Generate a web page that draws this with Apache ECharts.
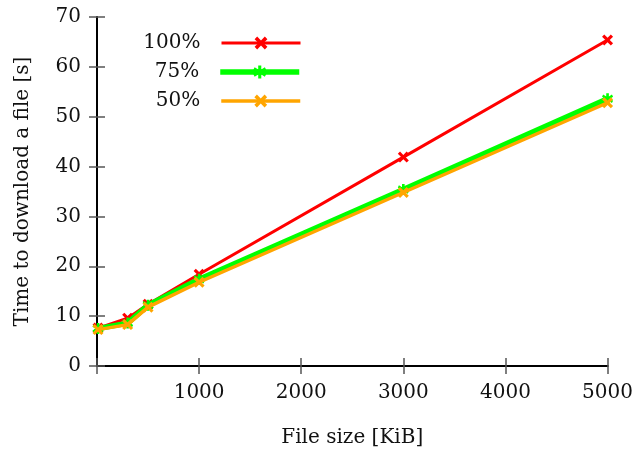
<!DOCTYPE html>
<html><head><meta charset="utf-8">
<script src="https://cdn.jsdelivr.net/npm/echarts@6/dist/echarts.min.js"></script>
<style>html,body{margin:0;padding:0;background:#fff}#c{width:636px;height:455px}</style>
</head><body><div id="c"></div>
<script>
const fileSizes = [10, 300, 500, 1000, 3000, 5000];
const t100 = [7.6, 9.6, 12.4, 18.4, 41.9, 65.4];
const t75  = [7.5, 8.6, 12.2, 17.4, 35.4, 53.6];
const t50  = [7.3, 8.3, 11.8, 16.8, 34.8, 52.8];
const seriesNames = ['100%', '75%', '50%'];
const xTicks = [1000, 2000, 3000, 4000, 5000];
const yTicks = [0, 10, 20, 30, 40, 50, 60, 70];

const FONT = 'DejaVu Serif';
const FS = 20;
const X = 'path://M2,0 L5,3 L8,0 L10,2 L7,5 L10,8 L8,10 L5,7 L2,10 L0,8 L3,5 L0,2 Z';
const STAR = 'path://M3.8,0 L6.2,0 L6.2,3 L9,1.2 L10,3.2 L7.4,5 L10,6.8 L9,8.8 L6.2,7 L6.2,10 L3.8,10 L3.8,7 L1,8.8 L0,6.8 L2.6,5 L0,3.2 L1,1.2 L3.8,3 Z';
const colors = ['#ff0000', '#00ff00', '#ffa500'];
const widths = [3, 5.5, 3.5];
const symbols = [X, STAR, X];
const values = [t100, t75, t50];

const series = values.map((v, i) => ({
  name: seriesNames[i], type: 'line', xAxisIndex: 0, yAxisIndex: 0,
  data: fileSizes.map((x, j) => [x, v[j]]),
  symbol: symbols[i], symbolSize: 11, showSymbol: true,
  lineStyle: {color: colors[i], width: widths[i]},
  itemStyle: {color: colors[i]},
  z: 2 + i, animation: false
}));

const legends = seriesNames.map((n, i) => ({
  data: [n], right: 334, top: 33 + i * 29, orient: 'vertical', align: 'right',
  padding: 0, itemWidth: 79, itemHeight: 16, itemGap: 0,
  lineStyle: {width: widths[i], color: colors[i]},
  textStyle: {fontFamily: FONT, fontSize: FS, color: '#111', padding: [0, 16, 0, 0]},
  selectedMode: false
}));

const chart = echarts.init(document.getElementById('c'), null, {renderer: 'canvas'});
chart.setOption({
  animation: false,
  legend: legends,
  grid: {left: 97, right: 27, top: 17, bottom: 89, containLabel: false},
  xAxis: [{
    type: 'value', min: 0, max: 5000, interval: 1000, position: 'bottom',
    axisLine: {lineStyle: {color: '#000', width: 2}},
    axisTick: {inside: true, length: 8, lineStyle: {color: '#555', width: 1.5}},
    splitLine: {show: false},
    axisLabel: {fontFamily: FONT, fontSize: FS, color: '#111', margin: 17,
      formatter: v => xTicks.includes(v) ? String(v) : ''},
    name: 'File size [KiB]', nameLocation: 'middle', nameGap: 62,
    nameTextStyle: {fontFamily: FONT, fontSize: FS, color: '#111'}
  }, {
    type: 'value', min: 0, max: 5000, interval: 1000, position: 'top',
    axisLine: {show: true, lineStyle: {color: '#000', width: 2}},
    axisTick: {inside: true, length: 8, lineStyle: {color: '#555', width: 1.5}},
    axisLabel: {show: false}, splitLine: {show: false}
  }],
  yAxis: [{
    type: 'value', min: 0, max: 70, interval: 10,
    axisLine: {show: true, lineStyle: {color: '#000', width: 2}},
    axisTick: {inside: true, length: 8, lineStyle: {color: '#555', width: 1.5}},
    splitLine: {show: false},
    axisLabel: {fontFamily: FONT, fontSize: FS, color: '#111', margin: 16,
      formatter: v => yTicks.includes(v) ? String(v) : ''},
    name: 'Time to download a file [s]', nameLocation: 'middle', nameGap: 64,
    nameTextStyle: {fontFamily: FONT, fontSize: FS, color: '#111'}
  }, {
    type: 'value', min: 0, max: 70, interval: 10, position: 'right',
    axisLine: {show: true, lineStyle: {color: '#000', width: 2}},
    axisTick: {inside: true, length: 8, lineStyle: {color: '#555', width: 1.5}},
    axisLabel: {show: false}, splitLine: {show: false}
  }],
  series: series
});
</script></body></html>
